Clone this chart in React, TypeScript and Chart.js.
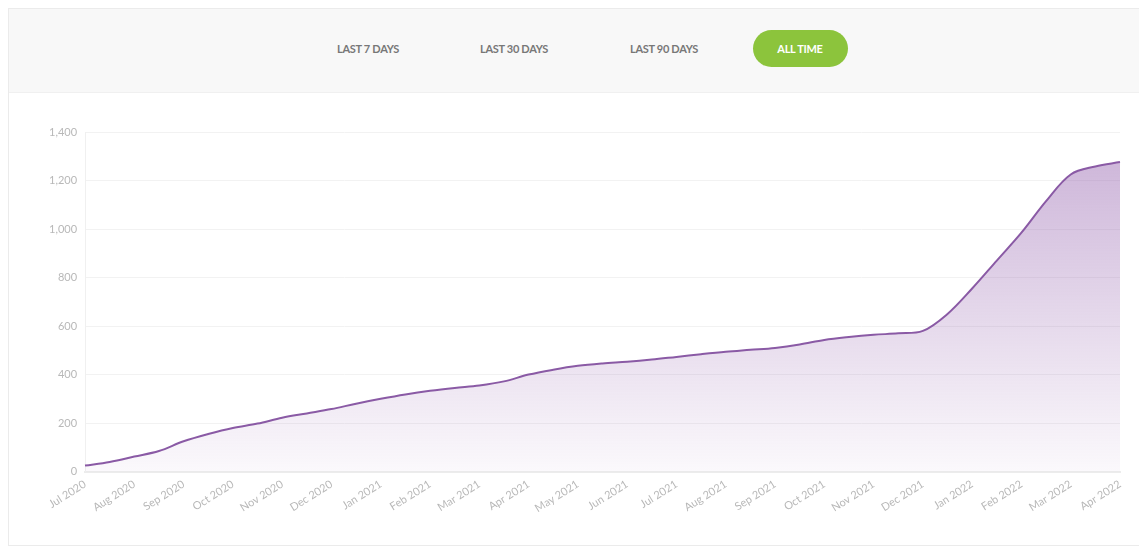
import React, { useEffect, useRef } from "react";
import { Chart, registerables } from "chart.js";

Chart.register(...registerables);

const monthLabels = [
  "Jul 2020", "Aug 2020", "Sep 2020", "Oct 2020", "Nov 2020", "Dec 2020",
  "Jan 2021", "Feb 2021", "Mar 2021", "Apr 2021", "May 2021", "Jun 2021",
  "Jul 2021", "Aug 2021", "Sep 2021", "Oct 2021", "Nov 2021", "Dec 2021",
  "Jan 2022", "Feb 2022", "Mar 2022", "Apr 2022",
];

// semi-monthly samples: index 2k = start of monthLabels[k]
const totals = [
  25, 40, 62, 85, 125, 155, 180, 198, 222, 240, 258, 280,
  300, 318, 333, 345, 355, 372, 400, 420, 436, 446, 453, 462,
  473, 484, 494, 502, 510, 524, 543, 555, 564, 570, 580, 650,
  755, 870, 985, 1115, 1225, 1258, 1276,
];

const yTicks = [0, 200, 400, 600, 800, 1000, 1200, 1400];

const buttons = ["LAST 7 DAYS", "LAST 30 DAYS", "LAST 90 DAYS", "ALL TIME"];

export default function App() {
  const ref = useRef<HTMLCanvasElement | null>(null);

  useEffect(() => {
    const canvas = ref.current!;
    const labels = totals.map((_, i) => (i % 2 === 0 ? monthLabels[i / 2] : ""));
    const chart = new Chart(canvas, {
      type: "line",
      data: {
        labels,
        datasets: [
          {
            data: totals,
            borderColor: "#8a5aa5",
            borderWidth: 2,
            pointRadius: 0,
            tension: 0.35,
            fill: true,
            backgroundColor: (ctx: any) => {
              const area = ctx.chart.chartArea;
              if (!area) return "rgba(150,100,175,0.2)";
              const g = ctx.chart.ctx.createLinearGradient(0, area.top, 0, area.bottom);
              g.addColorStop(0, "rgba(150,100,175,0.5)");
              g.addColorStop(1, "rgba(150,100,175,0.04)");
              return g;
            },
          },
        ],
      },
      options: {
        animation: false,
        responsive: false,
        maintainAspectRatio: false,
        layout: { padding: { left: 32, right: 19, top: 39, bottom: 24 } },
        plugins: { legend: { display: false }, tooltip: { enabled: false } },
        scales: {
          x: {
            type: "category",
            grid: { display: false, drawTicks: false },
            border: { display: true, color: "#ececec", width: 2 },
            ticks: {
              autoSkip: false,
              minRotation: 32,
              maxRotation: 32,
              padding: 6,
              color: "#b8b8b8",
              font: { family: "Lato", size: 11 },
            },
          },
          y: {
            min: 0,
            max: 1400,
            afterBuildTicks: (scale: any) => {
              scale.ticks = yTicks.map((v) => ({ value: v }));
            },
            grid: { color: "#f2f2f2", drawTicks: false },
            border: { display: true, color: "#f0f0f0" },
            ticks: {
              padding: 8,
              color: "#b8b8b8",
              font: { family: "Lato", size: 11 },
              callback: (v: any) => Number(v).toLocaleString("en-US"),
            },
          },
        },
      },
    });
    return () => chart.destroy();
  }, []);

  return (
    <div
      style={{
        width: 1130,
        border: "1px solid #ebebeb",
        fontFamily: "Lato, sans-serif",
        background: "#fff",
      }}
    >
      <div
        style={{
          height: 83,
          background: "#f8f8f8",
          borderBottom: "1px solid #f0f0f0",
          position: "relative",
        }}
      >
        {buttons.map((b, i) => {
          const centers = [368, 514, 664, 800];
          const active = i === 3;
          return (
            <div
              key={b}
              style={{
                position: "absolute",
                left: centers[i] - 9 - 50,
                width: 100,
                top: 21,
                height: 37,
                lineHeight: "37px",
                textAlign: "center",
                fontSize: 11,
                fontWeight: 700,
                letterSpacing: -0.3,
                color: active ? "#fff" : "#777",
              }}
            >
              {active ? (
                <span
                  style={{
                    display: "inline-block",
                    background: "#8cc43c",
                    borderRadius: 19,
                    width: 95,
                    height: 37,
                  }}
                >
                  {b}
                </span>
              ) : (
                b
              )}
            </div>
          );
        })}
      </div>
      <canvas ref={ref} width={1130} height={452} style={{ display: "block" }} />
    </div>
  );
}
